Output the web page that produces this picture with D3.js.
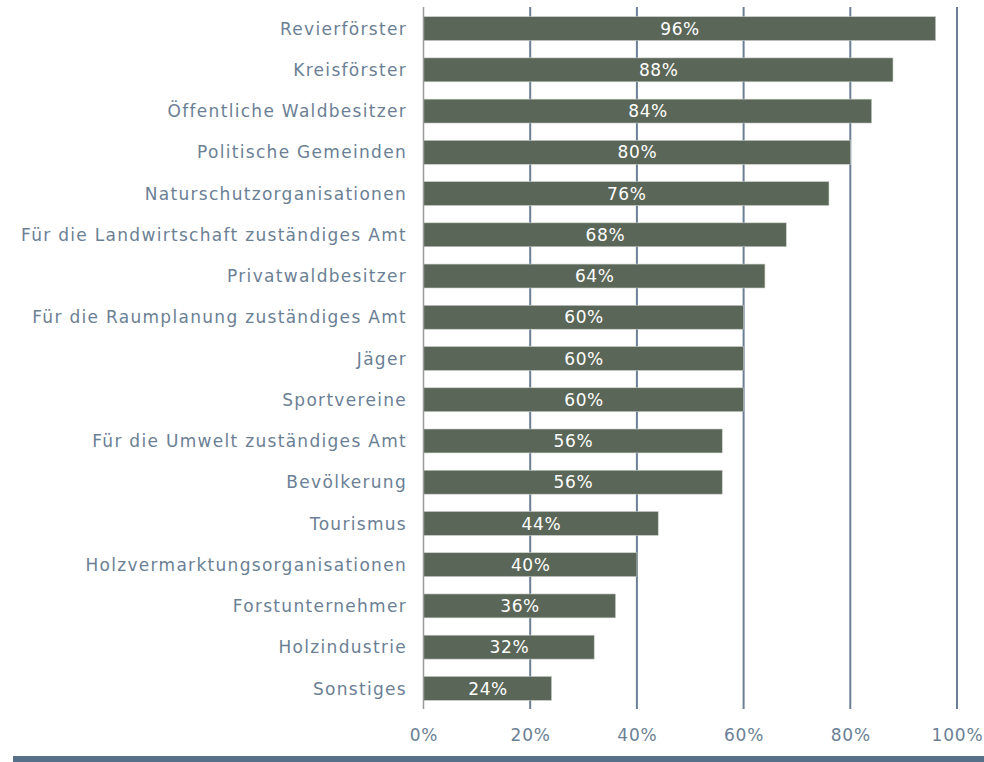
<!DOCTYPE html>
<html>
<head>
<meta charset="utf-8">
<script src="https://cdn.jsdelivr.net/npm/d3@7"></script>
<style>
  body { margin: 0; background: #fff; }
  svg text { font-family: "DejaVu Sans", Verdana, sans-serif; }
</style>
</head>
<body>
<div class="svg"></div>
<script>
// categories and values
var categories = [
  "Revierförster", "Kreisförster", "Öffentliche Waldbesitzer", "Politische Gemeinden",
  "Naturschutzorganisationen", "Für die Landwirtschaft zuständiges Amt", "Privatwaldbesitzer",
  "Für die Raumplanung zuständiges Amt", "Jäger", "Sportvereine", "Für die Umwelt zuständiges Amt",
  "Bevölkerung", "Tourismus", "Holzvermarktungsorganisationen", "Forstunternehmer",
  "Holzindustrie", "Sonstiges"
];
var values = [96, 88, 84, 80, 76, 68, 64, 60, 60, 60, 56, 56, 44, 40, 36, 32, 24];
var tickValues = [0, 20, 40, 60, 80, 100];

var w = 984, h = 762;
var plotLeft = 423.5, plotRight = 957, plotTop = 8, plotBottom = 709;

var svg = d3.select('div.svg').append('svg')
  .attr('width', w)
  .attr('height', h);

var x = d3.scaleLinear().domain([0, 100]).range([plotLeft, plotRight]);
var y = d3.scaleBand().domain(categories).range([plotTop, plotBottom]).paddingInner(0.42).paddingOuter(0.21);

// gridlines (20..100)
svg.selectAll('line.grid')
  .data(tickValues.slice(1))
  .enter().append('line')
  .attr('class', 'grid')
  .attr('x1', function (d) { return x(d); })
  .attr('x2', function (d) { return x(d); })
  .attr('y1', 7)
  .attr('y2', plotBottom)
  .attr('stroke', '#6b7f95')
  .attr('stroke-width', 2);

// bars
svg.selectAll('rect.bar')
  .data(values)
  .enter().append('rect')
  .attr('class', 'bar')
  .attr('x', x(0))
  .attr('y', function (d, i) { return y(categories[i]); })
  .attr('width', function (d) { return x(d) - x(0); })
  .attr('height', y.bandwidth())
  .attr('fill', '#5a6657')
  .attr('stroke', '#c9cec8')
  .attr('stroke-width', 0.6);

// zero axis line
svg.append('line')
  .attr('x1', x(0)).attr('x2', x(0))
  .attr('y1', 7).attr('y2', plotBottom)
  .attr('stroke', '#9a9a9a')
  .attr('stroke-width', 1.5);

// value labels
svg.selectAll('text.val')
  .data(values)
  .enter().append('text')
  .attr('class', 'val')
  .attr('x', function (d) { return (x(0) + x(d)) / 2 + 0.5; })
  .attr('y', function (d, i) { return y(categories[i]) + y.bandwidth() / 2; })
  .attr('dy', '0.36em')
  .attr('text-anchor', 'middle')
  .attr('font-size', '17px')
  .attr('letter-spacing', '0.6px')
  .attr('fill', '#ffffff')
  .text(function (d) { return d + '%'; });

// category labels
svg.selectAll('text.cat')
  .data(categories)
  .enter().append('text')
  .attr('class', 'cat')
  .attr('x', 407)
  .attr('y', function (d) { return y(d) + y.bandwidth() / 2; })
  .attr('dy', '0.36em')
  .attr('text-anchor', 'end')
  .attr('font-size', '17px')
  .attr('letter-spacing', '1.3px')
  .attr('fill', '#6b7f95')
  .text(function (d) { return d; });

// x axis tick labels
svg.selectAll('text.tick')
  .data(tickValues)
  .enter().append('text')
  .attr('class', 'tick')
  .attr('x', function (d) { return x(d) + 0.5; })
  .attr('y', 735)
  .attr('dy', '0.36em')
  .attr('text-anchor', 'middle')
  .attr('font-size', '17px')
  .attr('letter-spacing', '0.8px')
  .attr('fill', '#6b7f95')
  .text(function (d) { return d + '%'; });

// bottom band
svg.append('rect')
  .attr('x', 13).attr('y', 756)
  .attr('width', w - 13).attr('height', 6)
  .attr('fill', '#56708a');
</script>
</body>
</html>
